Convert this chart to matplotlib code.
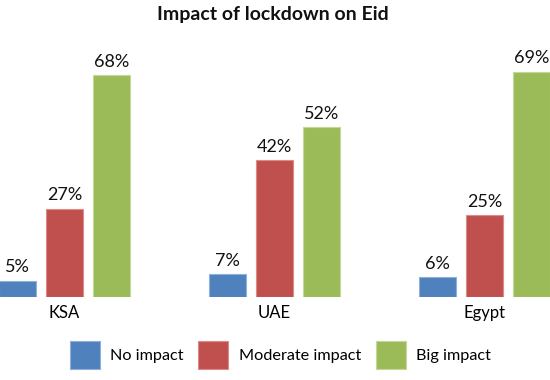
import matplotlib
matplotlib.use("Agg")
import matplotlib.pyplot as plt
from matplotlib.patches import Patch
import numpy as np

plt.rcParams['font.family'] = ['Lato', 'DejaVu Sans']

# data
countries = ['KSA', 'UAE', 'Egypt']
series_names = ['No impact', 'Moderate impact', 'Big impact']
no_impact = [5, 7, 6]
moderate_impact = [27, 42, 25]
big_impact = [68, 52, 69]
colors = ['#4F81BD', '#C0504D', '#9BBB59']
edges = ['#8EB0DA', '#DE8A88', '#C3D99A']

fig = plt.figure(figsize=(5.5, 3.8), dpi=100)
ax = fig.add_axes([0, 83 / 380, 1, 267 / 380])

x = np.arange(len(countries))
width = 0.174
step = 0.224
for i, (vals, c, ec) in enumerate(zip([no_impact, moderate_impact, big_impact], colors, edges)):
    bars = ax.bar(x + (i - 1) * step, vals, width, color=c, edgecolor=ec, linewidth=0.8)
    for b, v in zip(bars, vals):
        ax.annotate(f'{v}%', (b.get_x() + b.get_width() / 2, b.get_height()),
                    xytext=(0, 4), textcoords='offset points',
                    ha='center', va='bottom', fontsize=13, color='#111111')

ax.set_xlim(-0.307, 2.312)
ax.set_ylim(0, 81.9)
ax.set_xticks(x)
ax.set_xticklabels(countries, fontsize=12)
ax.tick_params(axis='x', length=0, pad=6)
ax.set_yticks([])
for s in ax.spines.values():
    s.set_visible(False)

fig.text(0.497, 0.963, 'Impact of lockdown on Eid', ha='center', va='center',
         fontsize=14, fontweight='bold', color='#111111')

handles = [Patch(facecolor=c, edgecolor=ec, linewidth=0.8) for c, ec in zip(colors, edges)]
fig.legend(handles, series_names, loc='center', bbox_to_anchor=(0.51, 1 - 355 / 380),
           ncol=3, frameon=False, fontsize=11.7, handlelength=1.85, handleheight=2.3,
           handletextpad=0.65, columnspacing=0.9, borderpad=0)

fig.savefig('out.png', dpi=100)
